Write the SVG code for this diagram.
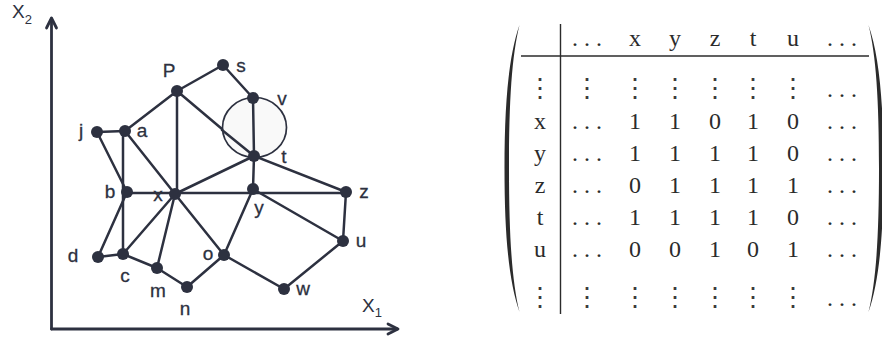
<svg xmlns="http://www.w3.org/2000/svg" width="882" height="337" viewBox="0 0 882 337">
<style>
.e{stroke:#2d3140;stroke-width:2.5;fill:none;stroke-linecap:round}
.ax{stroke:#2d3140;stroke-width:2.8;fill:none;stroke-linecap:round;stroke-linejoin:round}
.n{fill:#2d3140}
.lb{font-family:"Liberation Sans",Arial,sans-serif;font-size:19px;fill:#2d3140;stroke:#2d3140;stroke-width:0.3;text-anchor:middle}
.m{font-family:"Liberation Serif","Times New Roman",serif;font-size:24px;fill:#2b2b2b;text-anchor:middle}
.d{font-family:"Liberation Serif","Times New Roman",serif;font-size:24px;fill:#2b2b2b}
.vd{font-family:"DejaVu Serif",serif;font-size:26px;fill:#3a3a3a;text-anchor:middle}
.rule{stroke:#2b2b2b;stroke-width:1.4}
</style>
<rect width="882" height="337" fill="#ffffff"/>
<g id="axes">
<line class="ax" x1="51.5" y1="19" x2="51.5" y2="329"/>
<line class="ax" x1="51.5" y1="329" x2="397" y2="329"/>
<polyline class="ax" points="46.5,28 51.5,18 56.5,28"/>
<polyline class="ax" points="388,324 398,329 388,334"/>
<text x="12" y="18" font-family="Liberation Sans,Arial,sans-serif" font-size="19" fill="#2d3140">X<tspan font-size="13" dy="6">2</tspan></text>
<text x="362" y="312" font-family="Liberation Sans,Arial,sans-serif" font-size="19" fill="#2d3140">X<tspan font-size="13" dy="5">1</tspan></text>
</g>
<g id="connectors">
<line class="e" x1="177" y1="91" x2="223" y2="65"/>
<line class="e" x1="223" y1="65" x2="253" y2="98"/>
<line class="e" x1="125" y1="131" x2="177" y2="91"/>
<line class="e" x1="177" y1="91" x2="177" y2="194"/>
<line class="e" x1="177" y1="91" x2="254" y2="156"/>
<line class="e" x1="97" y1="132" x2="125" y2="131"/>
<line class="e" x1="97" y1="132" x2="127" y2="192"/>
<line class="e" x1="123" y1="131" x2="123" y2="254"/>
<line class="e" x1="125" y1="131" x2="175" y2="194"/>
<line class="e" x1="127" y1="193" x2="346" y2="193"/>
<line class="e" x1="175" y1="194" x2="254" y2="156"/>
<line class="e" x1="254" y1="156" x2="346" y2="192"/>
<line class="e" x1="254" y1="156" x2="253" y2="189"/>
<line class="e" x1="253" y1="189" x2="343" y2="241"/>
<line class="e" x1="253" y1="189" x2="224" y2="255"/>
<line class="e" x1="346" y1="192" x2="343" y2="241"/>
<line class="e" x1="343" y1="241" x2="284" y2="289"/>
<line class="e" x1="224" y1="255" x2="284" y2="289"/>
<line class="e" x1="175" y1="194" x2="224" y2="255"/>
<line class="e" x1="175" y1="194" x2="157" y2="268"/>
<line class="e" x1="175" y1="194" x2="123" y2="254"/>
<line class="e" x1="127" y1="192" x2="98" y2="257"/>
<line class="e" x1="98" y1="257" x2="123" y2="254"/>
<line class="e" x1="123" y1="254" x2="157" y2="268"/>
<line class="e" x1="157" y1="268" x2="187" y2="287"/>
<line class="e" x1="187" y1="287" x2="224" y2="255"/>
</g>
<g id="circle">
<ellipse cx="254.5" cy="127.5" rx="32" ry="30" fill="#f9f9f9" stroke="#2d3140" stroke-width="1.7"/>
<line class="e" x1="253" y1="98" x2="254" y2="156"/>
<line class="e" x1="222" y1="130" x2="254" y2="156"/>
</g>
<g id="node-j"><circle class="n" cx="97" cy="132" r="6"/><text class="lb" x="81" y="137">j</text></g>
<g id="node-a"><circle class="n" cx="125" cy="131" r="6"/><text class="lb" x="142" y="137">a</text></g>
<g id="node-P"><circle class="n" cx="177" cy="91" r="6"/><text class="lb" x="169" y="77">P</text></g>
<g id="node-s"><circle class="n" cx="223" cy="65" r="6"/><text class="lb" x="241" y="72">s</text></g>
<g id="node-v"><circle class="n" cx="253" cy="98" r="6"/><text class="lb" x="282" y="105">v</text></g>
<g id="node-t"><circle class="n" cx="254" cy="156" r="6"/><text class="lb" x="284" y="163">t</text></g>
<g id="node-b"><circle class="n" cx="127" cy="192" r="6"/><text class="lb" x="110" y="198">b</text></g>
<g id="node-x"><circle class="n" cx="175" cy="194" r="6"/><text class="lb" x="158" y="201">x</text></g>
<g id="node-y"><circle class="n" cx="253" cy="189" r="6"/><text class="lb" x="259" y="214">y</text></g>
<g id="node-z"><circle class="n" cx="346" cy="192" r="6"/><text class="lb" x="364" y="198">z</text></g>
<g id="node-u"><circle class="n" cx="343" cy="241" r="6"/><text class="lb" x="361" y="247">u</text></g>
<g id="node-d"><circle class="n" cx="98" cy="257" r="6"/><text class="lb" x="73" y="262">d</text></g>
<g id="node-c"><circle class="n" cx="123" cy="254" r="6"/><text class="lb" x="125" y="282">c</text></g>
<g id="node-m"><circle class="n" cx="157" cy="268" r="6"/><text class="lb" x="158" y="297">m</text></g>
<g id="node-n"><circle class="n" cx="187" cy="287" r="6"/><text class="lb" x="185" y="315">n</text></g>
<g id="node-o"><circle class="n" cx="224" cy="255" r="6"/><text class="lb" x="208" y="260">o</text></g>
<g id="node-w"><circle class="n" cx="284" cy="289" r="6"/><text class="lb" x="303" y="295">w</text></g>
<g id="matrix">
<path d="M519.5,25 C509,55 504.5,100 504.5,168.5 C504.5,237 509,282 519.5,312 C512,282 509,237 509,168.5 C509,100 512,55 519.5,25 Z" fill="#2b2b2b"/>
<path d="M868.5,25 C879,55 883.5,100 883.5,168.5 C883.5,237 879,282 868.5,312 C876,282 879,237 879,168.5 C879,100 876,55 868.5,25 Z" fill="#2b2b2b"/>
<line class="rule" x1="560.5" y1="24" x2="560.5" y2="314"/>
<line class="rule" x1="521" y1="56" x2="869" y2="56"/>
<text class="d" x="572" y="46" letter-spacing="6">...</text>
<text class="m" x="635" y="46">x</text>
<text class="m" x="675" y="46">y</text>
<text class="m" x="715" y="46">z</text>
<text class="m" x="753" y="46">t</text>
<text class="m" x="793" y="46">u</text>
<text class="d" x="827" y="46" letter-spacing="6">...</text>
<text class="vd" x="540" y="97">⋮</text>
<text class="vd" x="587" y="97">⋮</text>
<text class="vd" x="635" y="97">⋮</text>
<text class="vd" x="675" y="97">⋮</text>
<text class="vd" x="715" y="97">⋮</text>
<text class="vd" x="753" y="97">⋮</text>
<text class="vd" x="793" y="97">⋮</text>
<text class="d" x="827" y="96.5" letter-spacing="6">...</text>
<text class="m" x="540" y="129">x</text>
<text class="d" x="572" y="129" letter-spacing="6">...</text>
<text class="m" x="635" y="129">1</text><text class="m" x="675" y="129">1</text><text class="m" x="715" y="129">0</text><text class="m" x="753" y="129">1</text><text class="m" x="793" y="129">0</text>
<text class="d" x="827" y="129" letter-spacing="6">...</text>
<text class="m" x="540" y="161">y</text>
<text class="d" x="572" y="161" letter-spacing="6">...</text>
<text class="m" x="635" y="161">1</text><text class="m" x="675" y="161">1</text><text class="m" x="715" y="161">1</text><text class="m" x="753" y="161">1</text><text class="m" x="793" y="161">0</text>
<text class="d" x="827" y="161" letter-spacing="6">...</text>
<text class="m" x="540" y="193">z</text>
<text class="d" x="572" y="193" letter-spacing="6">...</text>
<text class="m" x="635" y="193">0</text><text class="m" x="675" y="193">1</text><text class="m" x="715" y="193">1</text><text class="m" x="753" y="193">1</text><text class="m" x="793" y="193">1</text>
<text class="d" x="827" y="193" letter-spacing="6">...</text>
<text class="m" x="540" y="225">t</text>
<text class="d" x="572" y="225" letter-spacing="6">...</text>
<text class="m" x="635" y="225">1</text><text class="m" x="675" y="225">1</text><text class="m" x="715" y="225">1</text><text class="m" x="753" y="225">1</text><text class="m" x="793" y="225">0</text>
<text class="d" x="827" y="225" letter-spacing="6">...</text>
<text class="m" x="540" y="257">u</text>
<text class="d" x="572" y="257" letter-spacing="6">...</text>
<text class="m" x="635" y="257">0</text><text class="m" x="675" y="257">0</text><text class="m" x="715" y="257">1</text><text class="m" x="753" y="257">0</text><text class="m" x="793" y="257">1</text>
<text class="d" x="827" y="257" letter-spacing="6">...</text>
<text class="vd" x="540" y="306">⋮</text>
<text class="vd" x="587" y="306">⋮</text>
<text class="vd" x="635" y="306">⋮</text>
<text class="vd" x="675" y="306">⋮</text>
<text class="vd" x="715" y="306">⋮</text>
<text class="vd" x="753" y="306">⋮</text>
<text class="vd" x="793" y="306">⋮</text>
<text class="d" x="827" y="305.5" letter-spacing="6">...</text>
</g>
</svg>
